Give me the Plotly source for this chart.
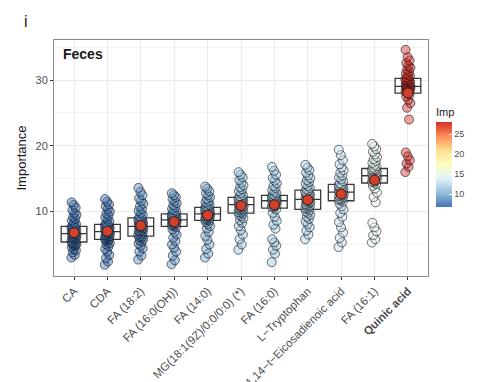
import numpy as np
import plotly.graph_objects as go

categories = ["CA", "CDA", "FA (18:2)", "FA (16:0(OH))", "FA (14:0)",
              "MG(18:1(9Z)/0:0/0:0) (*)", "FA (16:0)", "L−Tryptophan",
              "11,14−t−Eicosadienoic acid", "FA (16:1)", "Quinic acid"]

imp_CA = [3.0, 3.4, 3.8, 4.1, 4.3, 4.6, 4.8, 4.9, 5.0, 5.1, 5.2, 5.3,
          5.4, 5.5, 5.7, 5.8, 5.9, 6.0, 6.1, 6.2, 6.3, 6.4, 6.5, 6.6,
          6.7, 6.8, 6.9, 7.0, 7.1, 7.2, 7.3, 7.4, 7.5, 7.5, 7.6, 7.7,
          7.9, 8.1, 8.3, 8.6, 8.9, 9.2, 9.5, 9.8, 10.2, 10.6, 11.0, 11.4]
imp_CDA = [1.9, 2.4, 2.9, 3.4, 3.9, 4.3, 4.7, 5.0, 5.2, 5.4, 5.6, 5.7,
           5.8, 5.9, 6.0, 6.1, 6.2, 6.3, 6.4, 6.5, 6.6, 6.7, 6.8, 6.9,
           7.0, 7.1, 7.2, 7.3, 7.4, 7.5, 7.6, 7.7, 7.8, 7.9, 7.9, 8.0,
           8.2, 8.5, 8.8, 9.1, 9.4, 9.7, 10.0, 10.4, 10.8, 11.1, 11.5, 11.9]
imp_FA182 = [2.7, 3.3, 3.9, 4.4, 4.8, 5.1, 5.4, 5.6, 5.8, 6.0, 6.1, 6.2,
             6.3, 6.5, 6.6, 6.8, 6.9, 7.0, 7.1, 7.2, 7.4, 7.5, 7.6, 7.7,
             7.8, 7.9, 8.0, 8.1, 8.2, 8.3, 8.4, 8.5, 8.6, 8.7, 8.8, 9.0,
             9.2, 9.5, 9.8, 10.1, 10.4, 10.8, 11.2, 11.6, 12.0, 12.5, 13.0, 13.6]
imp_FA160OH = [2.0, 2.6, 3.3, 3.9, 4.5, 5.0, 5.5, 6.0, 6.5, 6.9, 7.3, 7.6,
               7.8, 7.9, 8.0, 8.1, 8.2, 8.3, 8.4, 8.5, 8.5, 8.6, 8.6, 8.7,
               8.8, 8.8, 8.9, 9.0, 9.1, 9.2, 9.3, 9.3, 9.4, 9.5, 9.5, 9.6,
               9.8, 10.0, 10.2, 10.4, 10.7, 11.0, 11.3, 11.6, 11.9, 12.2, 12.5, 12.8]
imp_FA140 = [3.0, 3.6, 4.3, 5.0, 5.7, 6.3, 6.9, 7.4, 7.8, 8.1, 8.4, 8.6,
             8.7, 8.8, 8.9, 9.0, 9.1, 9.2, 9.3, 9.3, 9.4, 9.5, 9.5, 9.6,
             9.7, 9.8, 9.9, 10.0, 10.0, 10.1, 10.2, 10.3, 10.4, 10.5, 10.5, 10.6,
             10.8, 11.0, 11.2, 11.4, 11.6, 11.9, 12.2, 12.5, 12.8, 13.1, 13.5, 13.8]
imp_MG = [4.2, 5.0, 5.8, 6.5, 7.2, 7.8, 8.3, 8.7, 9.0, 9.3, 9.5, 9.7,
          9.8, 9.9, 10.0, 10.2, 10.3, 10.4, 10.5, 10.6, 10.7, 10.8, 10.9, 11.0,
          11.1, 11.2, 11.3, 11.4, 11.5, 11.6, 11.7, 11.8, 11.9, 12.0, 12.0, 12.1,
          12.3, 12.5, 12.8, 13.1, 13.4, 13.7, 14.0, 14.4, 14.8, 15.2, 15.6, 16.0]
imp_FA160 = [2.3, 3.6, 4.2, 4.8, 5.3, 5.8, 7.4, 8.0, 8.6, 9.2, 9.8, 10.3,
             10.6, 10.7, 10.8, 10.9, 11.0, 11.1, 11.2, 11.3, 11.4, 11.5, 11.5, 11.6,
             11.7, 11.7, 11.8, 11.9, 12.0, 12.0, 12.1, 12.2, 12.2, 12.3, 12.3, 12.4,
             12.6, 12.8, 13.0, 13.3, 13.6, 13.9, 14.3, 14.7, 15.1, 15.6, 16.2, 16.8]
imp_TRP = [5.8, 6.5, 7.1, 7.6, 8.1, 8.5, 8.9, 9.2, 9.5, 9.8, 10.0, 10.2,
           10.4, 10.5, 10.6, 10.8, 10.9, 11.0, 11.1, 11.3, 11.4, 11.5, 11.6, 11.8,
           11.9, 12.0, 12.1, 12.2, 12.3, 12.5, 12.6, 12.7, 12.8, 12.9, 13.0, 13.2,
           13.4, 13.6, 13.9, 14.2, 14.5, 14.8, 15.1, 15.5, 15.9, 16.3, 16.7, 17.1]
imp_EICO = [4.6, 5.3, 6.0, 6.8, 7.6, 8.4, 9.2, 9.8, 10.3, 10.8, 11.2, 11.5,
            11.7, 11.8, 11.9, 12.0, 12.2, 12.3, 12.4, 12.5, 12.6, 12.7, 12.8, 12.9,
            13.0, 13.1, 13.2, 13.3, 13.4, 13.5, 13.6, 13.7, 13.8, 13.9, 14.0, 14.1,
            14.3, 14.6, 14.9, 15.2, 15.5, 15.9, 16.3, 16.7, 17.2, 17.8, 18.6, 19.4]
imp_FA161 = [5.3, 5.8, 6.4, 7.0, 7.6, 8.3, 11.4, 12.2, 12.9, 13.5, 13.9, 14.2,
             14.4, 14.5, 14.6, 14.7, 14.8, 14.9, 15.0, 15.1, 15.2, 15.3, 15.3, 15.4,
             15.5, 15.6, 15.7, 15.8, 15.9, 16.0, 16.1, 16.2, 16.3, 16.4, 16.4, 16.5,
             16.7, 16.9, 17.1, 17.4, 17.7, 18.0, 18.3, 18.7, 19.1, 19.5, 19.9, 20.3]
imp_QA = [16.0, 16.8, 17.3, 17.8, 18.4, 19.0, 24.0, 25.8, 26.5, 27.0, 27.5, 27.8,
          28.1, 28.2, 28.3, 28.4, 28.5, 28.6, 28.7, 28.8, 28.8, 28.9, 28.9, 29.0,
          29.1, 29.2, 29.3, 29.4, 29.5, 29.6, 29.7, 29.8, 29.9, 30.0, 30.1, 30.2,
          30.4, 30.6, 30.8, 31.0, 31.3, 31.6, 31.9, 32.2, 32.6, 33.0, 33.5, 34.6]

series = [imp_CA, imp_CDA, imp_FA182, imp_FA160OH, imp_FA140, imp_MG,
          imp_FA160, imp_TRP, imp_EICO, imp_FA161, imp_QA]

y_ticks = [10, 20, 30]
cbar_ticks = [10, 15, 20, 25]

# ---- derived stats ----
means = [float(np.mean(s)) for s in series]
q1 = [float(np.percentile(s, 25)) for s in series]
med = [float(np.percentile(s, 50)) for s in series]
q3 = [float(np.percentile(s, 75)) for s in series]

# RdYlBu (reversed: blue low, red high)
stops = [0.0, 1/6, 2/6, 3/6, 4/6, 5/6, 1.0]
rgb = [(69, 117, 180), (145, 191, 219), (224, 243, 248), (255, 255, 191),
       (254, 224, 144), (252, 141, 89), (215, 48, 39)]
cscale = [[s, "rgb(%d,%d,%d)" % c] for s, c in zip(stops, rgb)]
cscale_alpha = [[s, "rgba(%d,%d,%d,0.45)" % c] for s, c in zip(stops, rgb)]

# The page body has an 8px default margin: work in screen pixels, shift by 8.
OFF = 8
W, H = 478 - OFF, 382 - OFF
L, R, T, B = 54 - OFF, 428 - OFF, 40 - OFF, 276 - OFF

def xp(p):  # screen px -> paper x
    return (p - OFF - L) / (R - L)

def yp(p):  # screen px -> paper y
    return (B - (p - OFF)) / (B - T)

px, py, pc = [], [], []
for ci, s in enumerate(series):
    for i, v in enumerate(s):
        off = (((i * 0.6180339887) % 1.0) - 0.5) * 0.16
        px.append(ci + off)
        py.append(v)
        pc.append(means[ci])

fig = go.Figure()

fig.add_trace(go.Box(
    x=list(range(len(categories))), q1=q1, median=med, q3=q3,
    lowerfence=q1, upperfence=q3, width=0.77,
    fillcolor="rgba(255,255,255,0)", line=dict(color="#3a3a3a", width=1.3),
    boxpoints=False, showlegend=False, hoverinfo="skip"))

# jittered points (translucent fill, translucent dark outline)
fig.add_trace(go.Scatter(
    x=px, y=py, mode="markers", showlegend=False,
    marker=dict(size=9, color=pc, colorscale=cscale_alpha,
                cmin=min(means), cmax=max(means), showscale=False,
                line=dict(color="rgba(10,14,24,0.65)", width=0.9))))

# colour legend (opaque scale), carried by the category means
fig.add_trace(go.Scatter(
    x=list(range(len(categories))), y=means, mode="markers", showlegend=False,
    hoverinfo="skip",
    marker=dict(size=1, opacity=0, color=means, colorscale=cscale,
                cmin=min(means), cmax=max(means), showscale=True,
                colorbar=dict(
                    title=dict(text="Imp", side="top",
                               font=dict(size=11, color="#1a1a1a", family="Liberation Sans")),
                    thickness=16, len=102, lenmode="pixels",
                    x=xp(436), xanchor="left", xpad=0,
                    y=yp(207), yanchor="bottom", ypad=0,
                    tickvals=cbar_ticks, ticks="inside", tickcolor="white", ticklen=3,
                    tickfont=dict(size=9, color="#4d4d4d", family="Liberation Sans"),
                    outlinewidth=0))))

fig.add_trace(go.Scatter(
    x=list(range(len(categories))), y=means, mode="markers", showlegend=False,
    marker=dict(size=10, color="#d3402a", line=dict(color="#3b1c14", width=1))))

ticktext = [c if c != "Quinic acid" else "<b>Quinic acid</b>" for c in categories]

fig.update_layout(
    width=W, height=H,
    margin=dict(l=L, r=W - R, t=T, b=H - B, autoexpand=False),
    paper_bgcolor="white", plot_bgcolor="white",
    font=dict(family="Liberation Sans", color="#1a1a1a"),
    xaxis=dict(range=[-0.6, 10.6], tickmode="array",
               tickvals=list(range(len(categories))), ticktext=ticktext,
               tickangle=-45, tickfont=dict(size=11.5, color="#4d4d4d"),
               ticks="outside", ticklen=3, tickcolor="#333333",
               showgrid=True, gridcolor="#ebebeb", gridwidth=1,
               showline=True, linecolor="#8a8a8a", linewidth=1, mirror=True,
               zeroline=False, automargin=False),
    yaxis=dict(range=[0.2, 36.1], tickmode="array", tickvals=y_ticks,
               tickfont=dict(size=11, color="#4d4d4d"),
               ticks="outside", ticklen=3, tickcolor="#333333",
               showgrid=True, gridcolor="#ebebeb", gridwidth=1,
               minor=dict(tickvals=[5, 15, 25, 35], showgrid=True,
                          gridcolor="#f4f4f4", gridwidth=1, ticks=""),
               showline=True, linecolor="#8a8a8a", linewidth=1, mirror=True,
               zeroline=False, automargin=False,
               title=dict(text="Importance", font=dict(size=13, color="#1a1a1a"),
                          standoff=5)),
)

fig.add_annotation(x=xp(22), y=yp(22), xref="paper", yref="paper", text="i",
                   showarrow=False, xanchor="left", yanchor="middle",
                   font=dict(size=16, color="#1a1a1a"))
fig.add_annotation(x=xp(61), y=yp(54), xref="paper", yref="paper", text="<b>Feces</b>",
                   showarrow=False, xanchor="left", yanchor="middle",
                   font=dict(size=14, color="#1a1a1a"))

fig.write_html("out.html")
